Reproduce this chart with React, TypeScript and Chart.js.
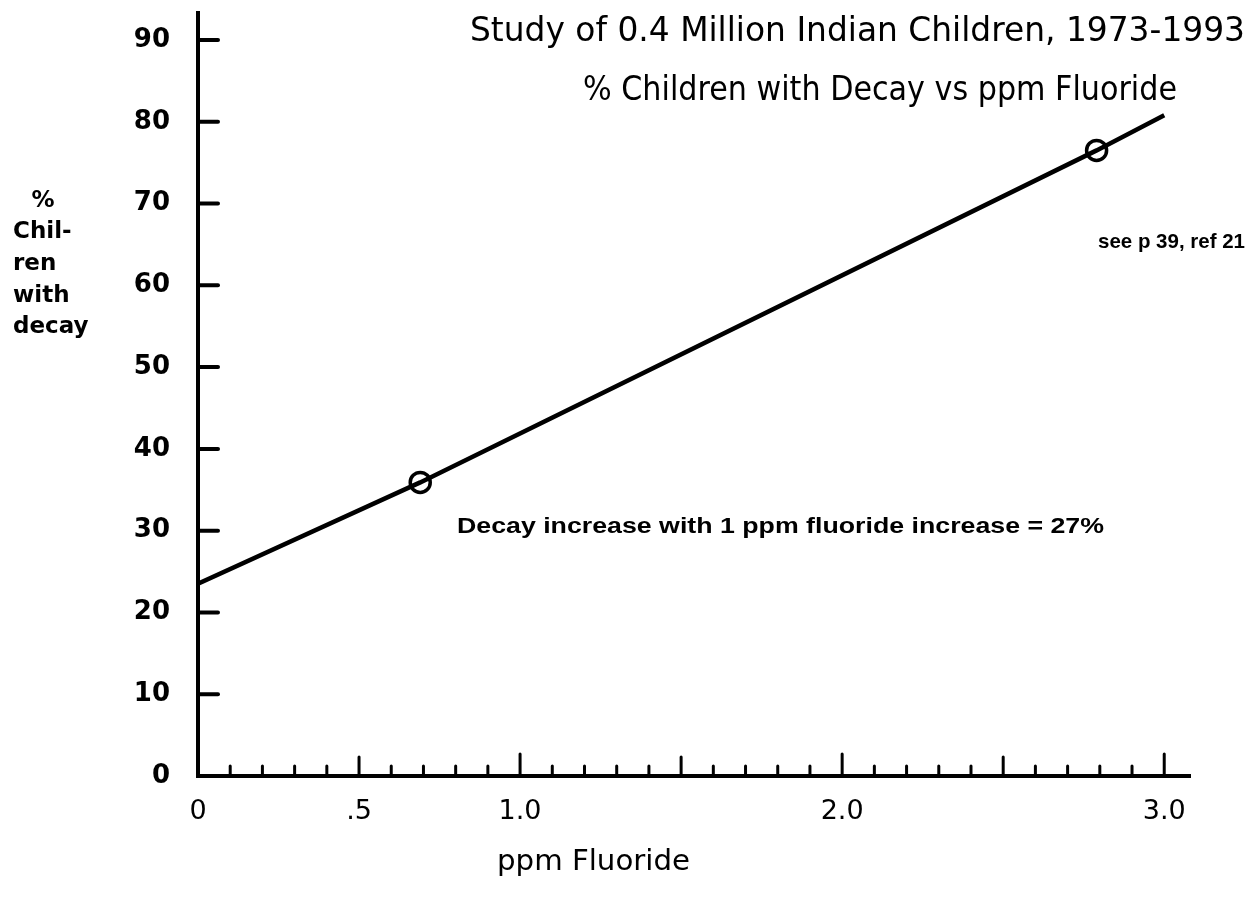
import React, { useEffect, useRef } from "react";
import { Chart, registerables } from "chart.js";

Chart.register(...registerables);

// ---- data ----
const fitPpm = [0, 0.69, 2.79, 3.0];
const fitDecayPct = [23.5, 35.9, 76.5, 80.8];
const studyPpm = [0.69, 2.79];
const studyDecayPct = [35.9, 76.5];

const yTickValues = [0, 10, 20, 30, 40, 50, 60, 70, 80, 90];
const xLabelValues = [0, 0.5, 1.0, 2.0, 3.0];
const xLabelTexts = ["0", ".5", "1.0", "2.0", "3.0"];
const xMinorTickValues = [
  0.1, 0.2, 0.3, 0.4, 0.5, 0.6, 0.7, 0.8, 0.9, 1.0,
  1.1, 1.2, 1.3, 1.4, 1.5, 1.6, 1.7, 1.8, 1.9, 2.0,
  2.1, 2.2, 2.3, 2.4, 2.5, 2.6, 2.7, 2.8, 2.9, 3.0,
];

const titleLines = [
  "Study of 0.4 Million Indian Children, 1973-1993",
  "% Children with Decay vs ppm Fluoride",
];
const yAxisTitleLines = ["%", "Chil-", "ren", "with", "decay"];
const xAxisTitle = "ppm Fluoride";
const slopeNote = "Decay increase with 1 ppm fluoride increase = 27%";
const sourceNote = "see p 39, ref 21";

const W = 1253;
const H = 898;

function fitText(ctx: CanvasRenderingContext2D, text: string, x: number, y: number, width: number) {
  const m = ctx.measureText(text).width;
  ctx.save();
  ctx.textAlign = "left";
  ctx.translate(x, y);
  ctx.scale(width / m, 1);
  ctx.fillText(text, 0, 0);
  ctx.restore();
}

const decorPlugin = {
  id: "decor",
  afterDraw(chart: any) {
    const ctx = chart.ctx as CanvasRenderingContext2D;
    const xs = chart.scales.x;
    const ys = chart.scales.y;
    const area = chart.chartArea;
    ctx.save();
    ctx.strokeStyle = "#000";
    ctx.fillStyle = "#000";
    ctx.lineCap = "round";

    // y tick marks (pointing right, into plot)
    ctx.lineWidth = 4;
    yTickValues.forEach((v) => {
      if (v === 0) return;
      const py = ys.getPixelForValue(v);
      ctx.beginPath();
      ctx.moveTo(area.left, py);
      ctx.lineTo(area.left + 20, py);
      ctx.stroke();
    });

    // x tick marks (pointing up)
    ctx.lineWidth = 3;
    xMinorTickValues.forEach((v) => {
      const px = xs.getPixelForValue(v);
      const tenth = Math.round(v * 10);
      let len = 10;
      if (tenth % 10 === 0) len = 22;
      else if (tenth % 5 === 0) len = 19;
      ctx.beginPath();
      ctx.moveTo(px, area.bottom);
      ctx.lineTo(px, area.bottom - len);
      ctx.stroke();
    });

    // titles
    ctx.textBaseline = "alphabetic";
    ctx.font = "33px 'DejaVu Sans'";
    fitText(ctx, titleLines[0], 470, 41, 775);
    fitText(ctx, titleLines[1], 583, 100, 594);

    // y axis title
    ctx.font = "bold 23px 'DejaVu Sans'";
    ctx.textAlign = "center";
    ctx.fillText(yAxisTitleLines[0], 43, 207);
    ctx.textAlign = "left";
    const baselines = [238, 270, 302, 333];
    yAxisTitleLines.slice(1).forEach((t, i) => {
      ctx.fillText(t, 13, baselines[i]);
    });

    // x axis title
    ctx.font = "29px 'DejaVu Sans'";
    fitText(ctx, xAxisTitle, 497, 870, 193);

    // notes
    ctx.font = "bold 22px 'Liberation Sans'";
    fitText(ctx, slopeNote, 457, 533, 647);
    ctx.font = "bold 21px 'Liberation Sans'";
    fitText(ctx, sourceNote, 1098, 248, 147);

    ctx.restore();
  },
};

export default function App() {
  const canvasRef = useRef<HTMLCanvasElement | null>(null);

  useEffect(() => {
    document.body.style.margin = "0";
    const canvas = canvasRef.current;
    if (!canvas) return;
    const chart = new Chart(canvas, {
      type: "line",
      data: {
        datasets: [
          {
            label: "fit",
            data: fitPpm.map((x, i) => ({ x, y: fitDecayPct[i] })),
            borderColor: "#000",
            borderWidth: 4.5,
            pointRadius: 0,
            tension: 0,
            fill: false,
          },
          {
            label: "study",
            data: studyPpm.map((x, i) => ({ x, y: studyDecayPct[i] })),
            showLine: false,
            borderColor: "#000",
            backgroundColor: "rgba(0,0,0,0)",
            pointRadius: 10,
            pointBorderWidth: 3.5,
            pointStyle: "circle",
          },
        ],
      },
      options: {
        animation: false,
        responsive: false,
        devicePixelRatio: 1,
        layout: { autoPadding: false, padding: { top: 13, right: 63, left: 0, bottom: 0 } },
        plugins: {
          legend: { display: false },
          tooltip: { enabled: false },
          title: { display: false },
        },
        scales: {
          x: {
            type: "linear",
            min: 0,
            max: 3.08,
            grid: { display: false, drawTicks: false },
            border: { display: true, color: "#000", width: 4 },
            afterBuildTicks: (scale: any) => {
              scale.ticks = xLabelValues.map((v) => ({ value: v }));
            },
            afterFit: (scale: any) => {
              scale.height = H - 776;
              scale.paddingLeft = 0;
              scale.paddingRight = 0;
            },
            ticks: {
              autoSkip: false,
              maxRotation: 0,
              padding: 20,
              color: "#000",
              font: { family: "'DejaVu Sans'", size: 27 },
              callback: (_v: any, i: number) => xLabelTexts[i],
            },
          },
          y: {
            type: "linear",
            min: 0,
            max: 93.3,
            grid: { display: false, drawTicks: false },
            border: { display: true, color: "#000", width: 4 },
            afterBuildTicks: (scale: any) => {
              scale.ticks = yTickValues.map((v) => ({ value: v }));
            },
            afterFit: (scale: any) => {
              scale.width = 198;
              scale.paddingTop = 0;
              scale.paddingBottom = 0;
            },
            ticks: {
              autoSkip: false,
              padding: 28,
              color: "#000",
              font: { family: "'DejaVu Sans'", size: 26, weight: "bold" },
              callback: (v: any) => String(v),
            },
          },
        },
      },
      plugins: [decorPlugin],
    } as any);
    return () => chart.destroy();
  }, []);

  return (
    <div style={{ width: W, height: H, overflow: "hidden", background: "#fff" }}>
      <canvas ref={canvasRef} width={W} height={H} style={{ display: "block" }} />
    </div>
  );
}
